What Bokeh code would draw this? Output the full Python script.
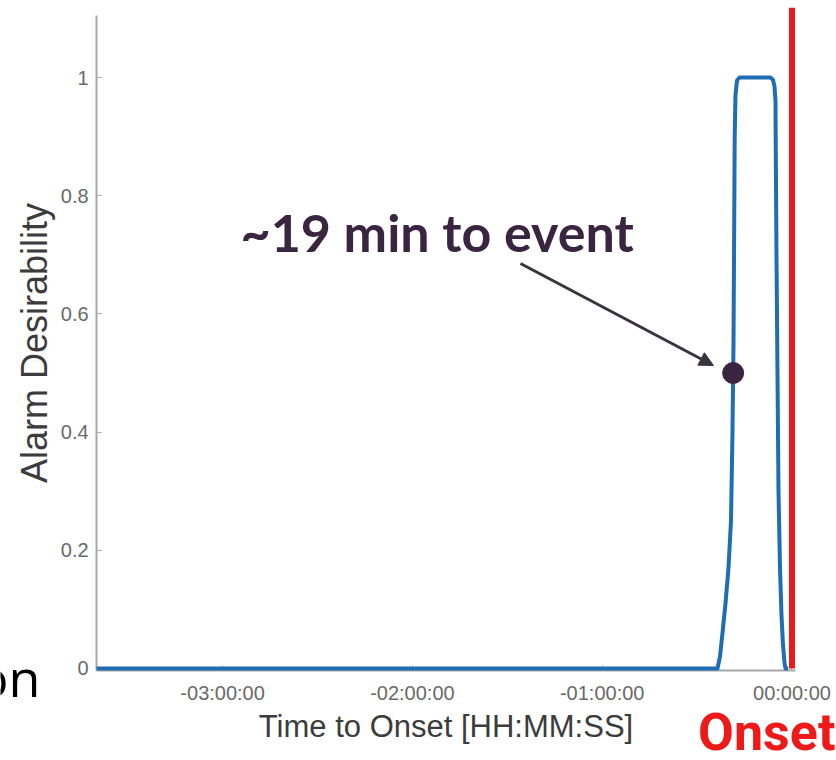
from bokeh.plotting import figure
from bokeh.models import Range1d, FixedTicker, Label, Arrow, NormalHead
from bokeh.embed import file_html
from bokeh.resources import INLINE

# ---- data (hours relative to onset, alarm desirability) ----
time_h = [-3.664, -0.3925, -0.3793, -0.3662, -0.3504, -0.3346, -0.3214, -0.3135,
          -0.3082, -0.3045, -0.3019, -0.2977, -0.2898, -0.2766,
          -0.1133, -0.1000, -0.0922, -0.0869, -0.0859, -0.0817, -0.0764,
          -0.0711, -0.0632, -0.0553, -0.0474, -0.0395, -0.0342, -0.0200]
desirability = [0.0, 0.0, 0.02, 0.06, 0.11, 0.17, 0.25, 0.40,
                0.55, 0.75, 0.90, 0.97, 0.995, 1.0,
                1.0, 0.996, 0.985, 0.96, 0.90, 0.70, 0.50,
                0.30, 0.17, 0.09, 0.04, 0.01, 0.0, 0.0]

event_time = [-0.31]
event_value = [0.5]
onset_time = [0.0]

x_ticks = [-3, -2, -1, 0]
x_tick_labels = ["-03:00:00", "-02:00:00", "-01:00:00", "00:00:00"]
y_ticks = [0, 0.2, 0.4, 0.6, 0.8, 1]
y_tick_labels = ["0", "0.2", "0.4", "0.6", "0.8", "1"]

# axis extents (data units)
x_min, x_max = -3.664, 0.018
y_min, y_max = -0.003, 1.105
onset_top = 1.118

BLUE = "#1f6db3"
RED = "#ee1a1a"
PURPLE = "#3a2540"
AXIS_GRAY = "#a8a8a8"

# frame covers the whole canvas; axes are drawn at fixed locations inside it
p = figure(width=836, height=760,
           min_border_left=0, min_border_right=0,
           min_border_top=0, min_border_bottom=0,
           x_range=Range1d(-4.1702, 0.2345), y_range=Range1d(-0.1557, 1.1303),
           output_backend="svg", toolbar_location=None,
           background_fill_color="white", border_fill_color="white")
p.outline_line_color = None
p.xgrid.visible = False
p.ygrid.visible = False

for ax in (p.xaxis, p.yaxis):
    ax.axis_line_color = AXIS_GRAY
    ax.axis_line_width = 2
    ax.major_tick_line_color = AXIS_GRAY
    ax.major_tick_line_width = 1
    ax.major_tick_in = 5
    ax.major_tick_out = 0
    ax.minor_tick_line_color = None
    ax.major_label_text_color = "#6a6a6a"
    ax.major_label_text_font = "Liberation Sans"
    ax.axis_label_text_font = "Liberation Sans"
    ax.axis_label_text_font_style = "normal"
    ax.axis_label_text_color = "#3c3c3c"

p.xaxis.fixed_location = y_min
p.xaxis.bounds = (x_min, x_max)
p.xaxis.ticker = FixedTicker(ticks=x_ticks)
p.xaxis.major_label_overrides = dict(zip(x_ticks, x_tick_labels))
p.xaxis.major_label_text_font_size = "20px"
p.xaxis.major_label_standoff = 12
p.xaxis.axis_label = "Time to Onset [HH:MM:SS]"
p.xaxis.axis_label_text_font_size = "31px"
p.xaxis.axis_label_standoff = 1

p.yaxis.fixed_location = x_min
p.yaxis.bounds = (y_min, y_max)
p.yaxis.ticker = FixedTicker(ticks=y_ticks)
p.yaxis.major_label_overrides = dict(zip(y_ticks, y_tick_labels))
p.yaxis.major_label_text_font_size = "20px"
p.yaxis.major_label_standoff = 8
p.yaxis.axis_label = "Alarm Desirability"
p.yaxis.axis_label_text_font_size = "36px"
p.yaxis.axis_label_standoff = 3

# curve (drawn above the axis line)
p.line(time_h, desirability, line_color=BLUE, line_width=4, line_join="round",
       level="overlay")

# onset line
p.segment(x0=onset_time, y0=[0.0], x1=onset_time, y1=[onset_top],
          line_color=RED, line_width=6, level="overlay")

# event marker
p.scatter(event_time, event_value, size=21, fill_color=PURPLE, line_color=PURPLE,
          level="overlay")

# annotation arrow
p.add_layout(Arrow(x_start=-1.4305, y_start=0.6853, x_end=-0.4136, y_end=0.5127,
                   line_color="#3a3440", line_width=3,
                   end=NormalHead(size=14, fill_color="#3a3440", line_color="#3a3440")))

p.add_layout(Label(x=-2.9057, y=0.7394, text="~19 min to event",
                   text_font="Lato", text_font_style="bold", text_font_size="52px",
                   text_color=PURPLE, text_align="left", text_baseline="alphabetic"))

p.add_layout(Label(x=-3.9594, y=-0.0135, text="on",
                   text_font="Open Sans", text_font_size="52px",
                   text_color="black", text_align="right", text_baseline="alphabetic"))

p.add_layout(Label(x=0.2292, y=-0.1083, text="Onset",
                   text_font="Roboto", text_font_style="bold",
                   text_font_size="52px",
                   text_color=RED, text_align="right", text_baseline="alphabetic"))

open("out.html", "w").write(file_html(p, INLINE))
